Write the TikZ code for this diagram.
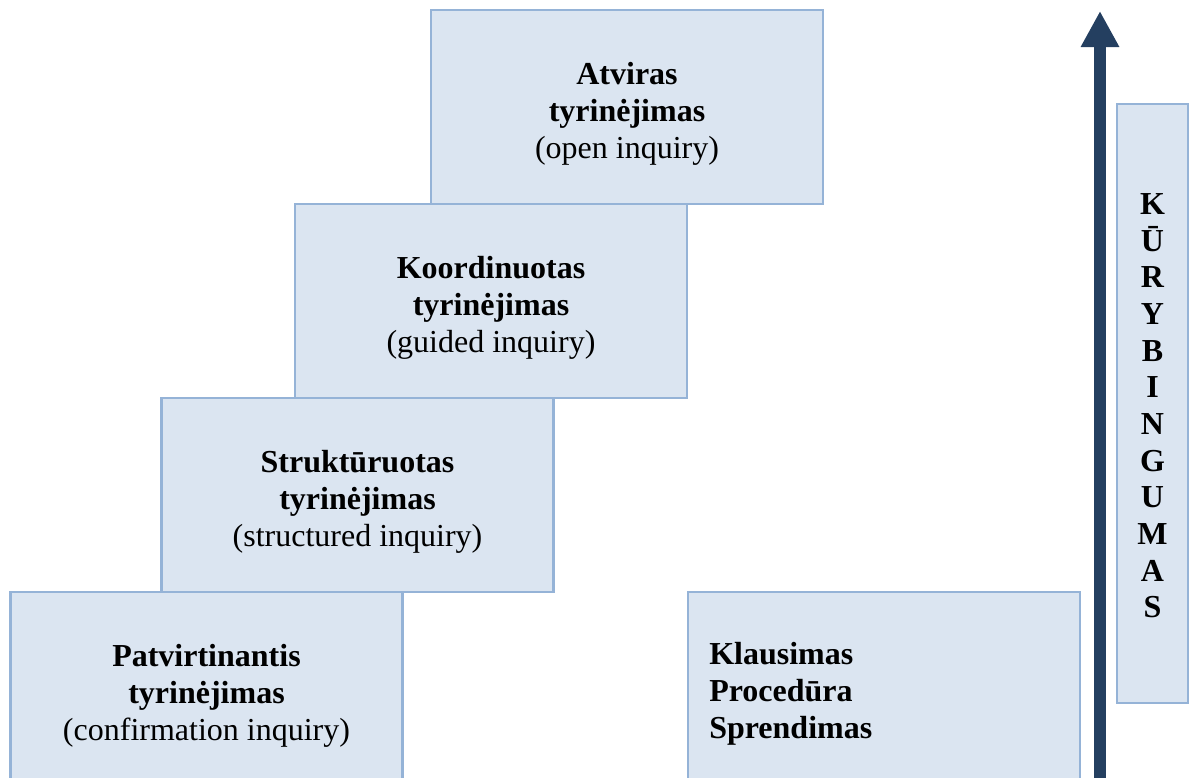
\documentclass[tikz,border=0pt]{standalone}
\usepackage{fontspec}
\setmainfont{Liberation Serif}
\usetikzlibrary{arrows.meta}
\definecolor{boxfill}{HTML}{DBE5F1}
\definecolor{boxline}{HTML}{95B3D7}
\definecolor{arrowcol}{HTML}{243F60}
\begin{document}
\begin{tikzpicture}[x=0.75pt,y=-0.75pt,
  stair/.style={draw=boxline, fill=boxfill, line width=2pt, inner sep=0pt,
    minimum width=294pt, minimum height=145.5pt},
  txt/.style={inner sep=0pt, align=center, font=\fontsize{24}{27.75}\selectfont},
  lbl/.style={inner sep=0pt, align=left, font=\fontsize{24}{27.75}\selectfont\bfseries},
  vlbl/.style={inner sep=0pt, align=center, font=\fontsize{24}{27.5}\selectfont\bfseries}]
\useasboundingbox (0,0) rectangle (1193,778);
\clip (0,0) rectangle (1193,778);
\node[stair] (open) at (627,107) {};
\node[txt] (opent) at (627,114) {\textbf{Atviras}\\\textbf{tyrinėjimas}\\(open inquiry)};
\node[stair] (guided) at (491,301) {};
\node[txt] (guidedt) at (491,308) {\textbf{Koordinuotas}\\\textbf{tyrinėjimas}\\(guided inquiry)};
\node[stair] (struct) at (357.5,495) {};
\node[txt] (structt) at (357.5,502) {\textbf{Struktūruotas}\\\textbf{tyrinėjimas}\\(structured inquiry)};
\node[stair] (confirm) at (206.5,689) {};
\node[txt] (confirmt) at (206.5,696) {\textbf{Patvirtinantis}\\\textbf{tyrinėjimas}\\(confirmation inquiry)};
\node[stair] (legend) at (884,689) {};
\node[lbl, anchor=west] (legendtext) at (709,694) {Klausimas\\Procedūra\\Sprendimas};
\node[draw=boxline, fill=boxfill, line width=2pt, minimum width=53.25pt, minimum height=449.25pt, inner sep=0pt] (vbox) at (1152.5,403.5) {};
\node[vlbl] (vtext) at (1152.5,406) {K\\Ū\\R\\Y\\B\\I\\N\\G\\U\\M\\A\\S};
\coordinate (abot) at (1100,800);
\coordinate (atop) at (1100,11);
\draw[arrowcol, line width=9pt, -{Triangle[width=27pt,length=27pt]}] (abot) -- (atop);
\end{tikzpicture}
\end{document}
